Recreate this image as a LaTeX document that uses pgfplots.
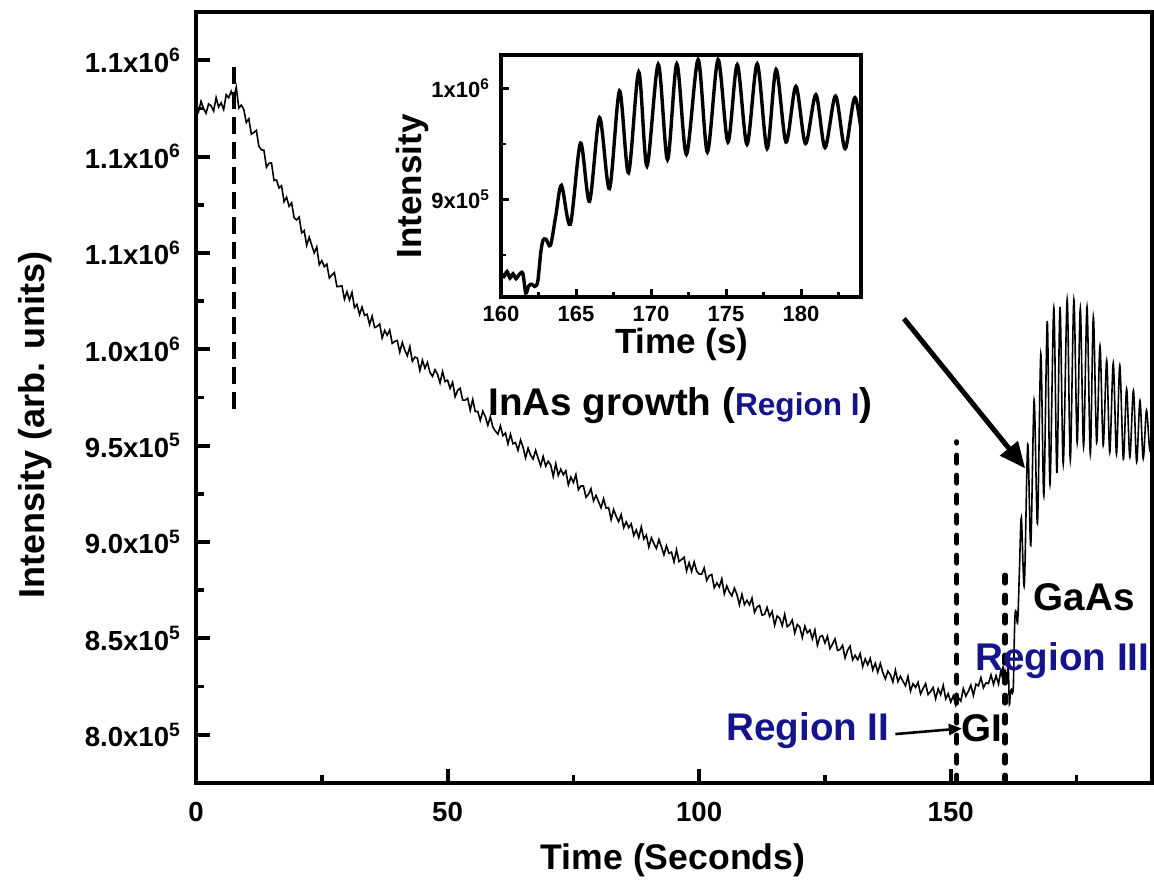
\documentclass[border=0pt]{standalone}
\usepackage{pgfplots}
\pgfplotsset{compat=1.18}
\usepackage{pgfplotstable}
\usepackage{fontspec}
\setmainfont{Liberation Sans}
\usetikzlibrary{arrows.meta}
\definecolor{regionblue}{RGB}{20,20,140}

% RHEED intensity during InAs growth (Region I) and the growth interruption (GI)
\pgfplotstableread{
t I
0.0 1127.1e3
0.5 1123.4e3
1.0 1128.7e3
1.5 1124.9e3
2.0 1122.5e3
2.5 1127.3e3
3.0 1126.4e3
3.5 1123.6e3
4.0 1130.6e3
4.5 1125.7e3
5.0 1127.9e3
5.5 1124.4e3
6.0 1132.1e3
6.5 1130.5e3
7.0 1133.8e3
7.5 1130.3e3
8.0 1136.0e3
8.5 1125.2e3
9.0 1126.7e3
9.5 1124.4e3
10.0 1117.6e3
10.5 1119.6e3
11.0 1111.6e3
11.5 1112.5e3
12.0 1113.6e3
12.5 1105.3e3
13.0 1103.5e3
13.5 1103.3e3
14.0 1094.5e3
14.5 1096.5e3
15.0 1096.7e3
15.5 1087.6e3
16.0 1087.9e3
16.5 1083.7e3
17.0 1084.9e3
17.5 1076.6e3
18.0 1078.9e3
18.5 1074.2e3
19.0 1076.0e3
19.5 1068.3e3
20.0 1067.1e3
20.5 1068.6e3
21.0 1060.4e3
21.5 1061.6e3
22.0 1054.0e3
22.5 1058.2e3
23.0 1054.0e3
23.5 1050.0e3
24.0 1053.1e3
24.5 1043.9e3
25.0 1046.0e3
25.5 1042.9e3
26.0 1044.2e3
26.5 1037.0e3
27.0 1038.5e3
27.5 1039.8e3
28.0 1032.6e3
28.5 1032.6e3
29.0 1033.0e3
29.5 1026.0e3
30.0 1029.9e3
30.5 1025.6e3
31.0 1029.5e3
31.5 1021.6e3
32.0 1023.3e3
32.5 1018.1e3
33.0 1021.9e3
33.5 1017.6e3
34.0 1018.2e3
34.5 1012.9e3
35.0 1017.2e3
35.5 1011.3e3
36.0 1011.9e3
36.5 1013.2e3
37.0 1005.8e3
37.5 1009.8e3
38.0 1007.3e3
38.5 1010.0e3
39.0 1003.1e3
39.5 1004.1e3
40.0 1004.6e3
40.5 998.5e3
41.0 1003.6e3
41.5 999.5e3
42.0 996.7e3
42.5 1001.4e3
43.0 993.8e3
43.5 996.0e3
44.0 995.4e3
44.5 989.0e3
45.0 994.3e3
45.5 990.2e3
46.0 993.2e3
46.5 988.0e3
47.0 986.0e3
47.5 989.4e3
48.0 987.0e3
48.5 982.6e3
49.0 988.4e3
49.5 983.3e3
50.0 984.0e3
50.5 979.7e3
51.0 982.9e3
51.5 975.4e3
52.0 978.7e3
52.5 979.8e3
53.0 973.7e3
53.5 973.6e3
54.0 974.6e3
54.5 968.4e3
55.0 974.0e3
55.5 967.7e3
56.0 967.8e3
56.5 963.1e3
57.0 967.9e3
57.5 965.1e3
58.0 960.6e3
58.5 965.0e3
59.0 959.6e3
59.5 957.6e3
60.0 956.0e3
60.5 960.3e3
61.0 955.2e3
61.5 956.6e3
62.0 950.9e3
62.5 955.9e3
63.0 951.0e3
63.5 951.6e3
64.0 947.6e3
64.5 953.0e3
65.0 949.2e3
65.5 943.7e3
66.0 948.7e3
66.5 945.1e3
67.0 943.1e3
67.5 947.6e3
68.0 943.4e3
68.5 939.5e3
69.0 944.4e3
69.5 939.4e3
70.0 941.9e3
70.5 939.9e3
71.0 934.1e3
71.5 940.6e3
72.0 934.6e3
72.5 937.8e3
73.0 934.9e3
73.5 937.0e3
74.0 929.7e3
74.5 933.7e3
75.0 930.9e3
75.5 935.0e3
76.0 927.1e3
76.5 929.1e3
77.0 929.1e3
77.5 923.3e3
78.0 924.8e3
78.5 927.7e3
79.0 921.4e3
79.5 924.2e3
80.0 921.0e3
80.5 917.8e3
81.0 922.5e3
81.5 917.6e3
82.0 917.9e3
82.5 911.7e3
83.0 916.9e3
83.5 913.4e3
84.0 910.6e3
84.5 914.3e3
85.0 907.5e3
85.5 910.5e3
86.0 907.5e3
86.5 909.5e3
87.0 903.4e3
87.5 906.3e3
88.0 902.3e3
88.5 907.9e3
89.0 901.6e3
89.5 903.6e3
90.0 897.4e3
90.5 902.2e3
91.0 899.2e3
91.5 896.7e3
92.0 901.3e3
92.5 897.5e3
93.0 893.4e3
93.5 898.1e3
94.0 894.2e3
94.5 894.8e3
95.0 889.7e3
95.5 896.0e3
96.0 889.9e3
96.5 890.9e3
97.0 892.2e3
97.5 885.0e3
98.0 889.3e3
98.5 884.8e3
99.0 889.7e3
99.5 884.9e3
100.0 883.4e3
100.5 883.3e3
101.0 886.6e3
101.5 880.1e3
102.0 882.5e3
102.5 883.2e3
103.0 876.3e3
103.5 878.9e3
104.0 876.7e3
104.5 880.9e3
105.0 873.1e3
105.5 877.2e3
106.0 874.1e3
106.5 872.1e3
107.0 876.1e3
107.5 872.9e3
108.0 867.5e3
108.5 872.9e3
109.0 867.6e3
109.5 869.8e3
110.0 867.4e3
110.5 870.9e3
111.0 863.5e3
111.5 866.3e3
112.0 867.1e3
112.5 862.1e3
113.0 862.5e3
113.5 866.1e3
114.0 861.5e3
114.5 864.0e3
115.0 856.9e3
115.5 861.6e3
116.0 860.5e3
116.5 856.6e3
117.0 862.5e3
117.5 856.1e3
118.0 857.2e3
118.5 859.6e3
119.0 852.8e3
119.5 857.2e3
120.0 855.9e3
120.5 850.5e3
121.0 856.4e3
121.5 852.9e3
122.0 854.4e3
122.5 849.8e3
123.0 854.4e3
123.5 846.5e3
124.0 850.9e3
124.5 851.5e3
125.0 847.6e3
125.5 851.1e3
126.0 844.7e3
126.5 847.1e3
127.0 849.8e3
127.5 843.8e3
128.0 844.3e3
128.5 846.4e3
129.0 839.9e3
129.5 843.9e3
130.0 846.0e3
130.5 838.9e3
131.0 841.2e3
131.5 838.9e3
132.0 842.1e3
132.5 835.4e3
133.0 839.4e3
133.5 836.3e3
134.0 839.7e3
134.5 833.7e3
135.0 837.1e3
135.5 832.5e3
136.0 837.0e3
136.5 832.3e3
137.0 829.0e3
137.5 833.0e3
138.0 831.2e3
138.5 827.4e3
139.0 833.5e3
139.5 827.6e3
140.0 830.4e3
140.5 827.8e3
141.0 825.5e3
141.5 830.3e3
142.0 822.7e3
142.5 826.5e3
143.0 824.6e3
143.5 827.2e3
144.0 821.2e3
144.5 824.0e3
145.0 826.5e3
145.5 820.9e3
146.0 822.5e3
146.5 824.5e3
147.0 818.7e3
147.5 823.9e3
148.0 820.8e3
148.5 825.7e3
149.0 818.7e3
149.5 821.3e3
150.0 817.0e3
150.5 820.2e3
151.0 815.3e3
151.5 819.4e3
152.0 817.5e3
152.5 824.0e3
153.0 820.1e3
153.5 822.6e3
154.0 825.8e3
154.5 820.4e3
155.0 826.3e3
155.5 825.4e3
156.0 829.7e3
156.5 824.4e3
157.0 827.0e3
157.5 826.6e3
158.0 831.1e3
158.5 826.2e3
159.0 830.7e3
159.5 826.4e3
160.0 834.0e3
}\decaytable

% GaAs overgrowth (Region III) with RHEED oscillations
\pgfplotstableread{
t I
160.0 834.0e3
160.2 830.5e3
160.4 835.0e3
160.6 829.0e3
160.8 833.0e3
161.0 828.5e3
161.2 832.0e3
161.45 833.5e3
161.65 815.6e3
161.85 822.0e3
162.05 823.5e3
162.25 821.5e3
162.45 826.0e3
162.65 852.0e3
162.8 863.0e3
163.0 864.0e3
163.3 858.6e3
163.65 885.0e3
164.03 912.6e3
164.62 877.5e3
165.3 950.7e3
165.9 898.2e3
166.57 973.6e3
167.23 909.6e3
167.9 997.6e3
168.5 924.0e3
169.18 1014.7e3
169.73 930.0e3
170.48 1021.6e3
171.1 935.8e3
171.72 1022.0e3
172.36 940.5e3
173.14 1025.8e3
173.76 942.6e3
174.47 1025.8e3
175.13 951.6e3
175.75 1021.3e3
176.4 949.5e3
177.08 1022.0e3
177.74 945.7e3
178.34 1017.0e3
179.0 951.6e3
179.66 1001.8e3
180.3 950.2e3
180.99 994.3e3
181.6 946.6e3
182.3 993.0e3
182.94 945.7e3
183.6 991.6e3
184.3 943.0e3
184.95 979.5e3
185.6 944.1e3
186.3 978.6e3
186.95 941.5e3
187.6 973.4e3
188.25 943.3e3
188.9 968.3e3
189.55 948.0e3
190.0 962.0e3
}\gaastable

\begin{document}
\begin{tikzpicture}
\begin{axis}[
  at={(0pt,0pt)}, anchor=south west,
  scale only axis, width=478pt, height=385.5pt,
  xmin=0, xmax=190, ymin=775e3, ymax=1175e3,
  axis line style={line width=2.4pt},
  clip mode=individual,
  tick align=inside,
  xtick pos=left, ytick pos=left,
  major tick length=7pt, minor tick length=4pt,
  every major tick/.style={line width=2pt, black},
  every minor tick/.style={line width=1.8pt, black},
  xtick={0,50,100,150}, xticklabels={0,50,100,150},
  minor xtick={25,75,125,175},
  ytick={800e3,850e3,900e3,950e3,1000e3,1050e3,1100e3,1150e3},
  yticklabels={8.0x10\textsuperscript{5},8.5x10\textsuperscript{5},9.0x10\textsuperscript{5},9.5x10\textsuperscript{5},1.0x10\textsuperscript{6},1.1x10\textsuperscript{6},1.1x10\textsuperscript{6},1.1x10\textsuperscript{6}},
  minor ytick={825e3,875e3,925e3,975e3,1025e3,1075e3,1125e3},
  scaled y ticks=false,
  ticklabel style={font=\fontsize{13.8}{16}\selectfont\bfseries},
  xticklabel style={yshift=-6pt},
  yticklabel style={xshift=-4pt},
]
\addplot[black, line width=0.8pt] table[x=t, y=I] {\decaytable};
\addplot[black, line width=0.8pt, smooth] table[x=t, y=I] {\gaastable};

% region boundaries
\addplot[black, line width=2pt, dash pattern=on 8.5pt off 4pt] coordinates {(7.5,969e3) (7.5,1150e3)};
\addplot[black, line width=2.6pt, line cap=round, dash pattern=on 3.9pt off 6.1pt] coordinates {(151.2,775e3) (151.2,952e3)};
\addplot[black, line width=2.6pt, line cap=round, dash pattern=on 3.9pt off 6.1pt] coordinates {(160.8,775e3) (160.8,884e3)};

% annotations
\node[anchor=base, inner sep=0pt, font=\fontsize{19.3}{22}\selectfont\bfseries] at (axis cs:96.3,965.5e3)
  {InAs growth ({\fontsize{15.8}{18}\selectfont\color{regionblue}Region I})};
\node[anchor=base, inner sep=0pt, font=\fontsize{19.3}{22}\selectfont\bfseries, text=regionblue] at (axis cs:121.6,797.3e3) {Region II};
\node[anchor=base, inner sep=0pt, font=\fontsize{19.3}{22}\selectfont\bfseries] at (axis cs:156.2,796.4e3) {GI};
\node[anchor=base, inner sep=0pt, font=\fontsize{19.3}{22}\selectfont\bfseries] at (axis cs:176.5,864.6e3) {GaAs};
\node[anchor=base, inner sep=0pt, font=\fontsize{19.3}{22}\selectfont\bfseries, text=regionblue] at (axis cs:172.2,833.5e3) {Region III};
\draw[black, line width=1.3pt, -{Triangle[length=6.5pt,width=5.5pt]}] (axis cs:139.0,800.4e3) -- (axis cs:152.2,803.3e3);
\draw[black, line width=2.5pt, -{Triangle[length=13pt,width=11pt]}] (axis cs:140.7,1015.9e3) -- (axis cs:164.8,938.2e3);
\end{axis}

% axis titles of the main panel
\node[anchor=base, inner sep=0pt, font=\fontsize{17.8}{20}\selectfont\bfseries] at (238.5pt,-43pt) {Time (Seconds)};
\node[anchor=base, rotate=90, inner sep=0pt, font=\fontsize{18}{20}\selectfont\bfseries] at (-75.5pt,179pt) {Intensity (arb. units)};

% inset: zoom on the GaAs oscillations
\begin{axis}[
  at={(152.5pt,243pt)}, anchor=south west,
  scale only axis, width=180pt, height=121pt,
  xmin=160, xmax=184, ymin=812e3, ymax=1030e3,
  axis background/.style={fill=white},
  axis line style={line width=2pt},
  tick align=inside,
  xtick pos=left, ytick pos=left,
  major tick length=4pt, minor tick length=2.5pt,
  every major tick/.style={line width=1.5pt, black},
  every minor tick/.style={line width=1.3pt, black},
  xtick={160,165,170,175,180}, xticklabels={160,165,170,175,180},
  minor xtick={162.5,167.5,172.5,177.5,182.5},
  ytick={900e3,1000e3}, yticklabels={9x10\textsuperscript{5},1x10\textsuperscript{6}},
  minor ytick={850e3,950e3},
  scaled y ticks=false,
  ticklabel style={font=\fontsize{11}{13}\selectfont\bfseries},
  xticklabel style={yshift=-1pt},
  yticklabel style={xshift=-2pt},
]
\addplot[black, line width=1.7pt, smooth] table[x=t, y=I] {\gaastable};
\end{axis}
\node[anchor=base, inner sep=0pt, font=\fontsize{17.5}{20}\selectfont\bfseries] at (242.9pt,215pt) {Time (s)};
\node[anchor=base, rotate=90, inner sep=0pt, font=\fontsize{17.5}{20}\selectfont\bfseries] at (112.9pt,298.3pt) {Intensity};

\pgfresetboundingbox
\useasboundingbox (-98pt,-48.5pt) rectangle (479pt,391.5pt);
\end{tikzpicture}
\end{document}
